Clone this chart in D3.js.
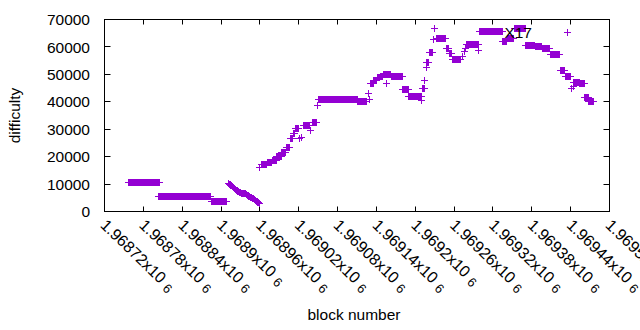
<!DOCTYPE html>
<html>
  <head>
    <meta charset="utf-8">
    <title>difficulty</title>
    <script src="https://d3js.org/d3.v7.min.js"></script>
    <style>
      body { margin: 0; background: #fff; }
      text { font-family: 'Liberation Sans', Arial, sans-serif; font-size: 15.5px; fill: #000; }
      text.xtick { font-size: 16px; }
    </style>
  </head>
  <body>
    <script>
// Data
// runs of blocks that share one difficulty: [first block, last block, difficulty]
var plateauRuns = [
  [1968757, 1968805, 10500], [1968804, 1968884, 5300], [1968885, 1968909, 3500],
  [1968962, 1968970, 17300], [1968971, 1968978, 17700], [1968979, 1968985, 18600],
  [1968986, 1968993, 19900], [1968994, 1969000, 21500], [1969001, 1969006, 23500],
  [1969007, 1969011, 26500], [1969012, 1969014, 28500], [1969015, 1969019, 30200],
  [1969028, 1969037, 31400], [1969041, 1969047, 32600], [1969050, 1969110, 40700],
  [1969111, 1969125, 40200], [1969131, 1969135, 46800], [1969136, 1969140, 47800],
  [1969141, 1969145, 48700], [1969146, 1969150, 49400], [1969151, 1969162, 49800],
  [1969163, 1969180, 49300], [1969181, 1969189, 44400], [1969190, 1969209, 42000],
  [1969211, 1969214, 44800], [1969218, 1969221, 54400], [1969222, 1969226, 57800],
  [1969233, 1969247, 63000], [1969248, 1969252, 59300], [1969253, 1969256, 57600],
  [1969257, 1969270, 55300], [1969279, 1969297, 60800], [1969299, 1969334, 65600],
  [1969335, 1969341, 61900], [1969342, 1969352, 63000], [1969353, 1969370, 66600],
  [1969371, 1969384, 60700], [1969385, 1969395, 60000], [1969396, 1969408, 59400],
  [1969409, 1969423, 57400], [1969425, 1969431, 51400], [1969432, 1969440, 49100],
  [1969445, 1969453, 46900], [1969454, 1969461, 46500], [1969462, 1969467, 41600],
  [1969468, 1969475, 40000]
];

// the falling stretch, one value per block starting at slopeFirstBlock
var slopeFirstBlock = 1968912;
var slopeValues = [
  10200, 10000, 9800, 9600, 9400, 9200, 9000, 8800, 8600,
  8400, 8200, 8000, 7800, 7600, 7400, 7200, 7000,
  6900, 6800, 6700, 6700, 6600, 6600, 6500, 6500, 6400, 6400, 6300, 6200, 6000, 5800, 5600,
  5400, 5200, 5100, 5000, 4900, 4800, 4600, 4400, 4200, 4000,
  3800, 3700, 3500, 3400, 3200, 3000
];

// lone points: [block, difficulty]
var singlePoints = [
  [1968960, 16200], [1969021, 26500], [1969024, 27000], [1969038, 29500],
  [1969049, 38600], [1969128, 43000], [1969129, 41000], [1969156, 46800],
  [1969210, 40500], [1969215, 47800], [1969217, 52600], [1969228, 62700],
  [1969230, 66600], [1969273, 56500], [1969276, 58500], [1969278, 59500],
  [1969298, 58700], [1969442, 44700], [1969444, 45600]
];

var yTickValues = [0, 10000, 20000, 30000, 40000, 50000, 60000, 70000];
var xTickValues = d3.range(1968720, 1969501, 60);
var seriesName = "X17";

//Globals
var W = 640, H = 330;
var pLeft = 104.5, pRight = 609.5, pTop = 19.5, pBottom = 211.5;
var purple = "#9400d3";

var x = d3.scaleLinear().domain([1968720, 1969500]).range([pLeft, pRight]);
var y = d3.scaleLinear().domain([0, 70000]).range([pBottom, pTop]);

// expand the runs into one point per block
var points = [];
plateauRuns.forEach(function(r){
  for (var b = r[0]; b <= r[1]; b++) points.push([b, r[2]]);
});
slopeValues.forEach(function(v, i){ points.push([slopeFirstBlock + i, v]); });
singlePoints.forEach(function(p){ points.push(p); });

var svg = d3.select("body").append("svg").attr("width", W).attr("height", H);

// ticks (inward, mirrored on top and right)
var g = svg.append("g").attr("stroke", "#000").attr("stroke-width", 1);
yTickValues.forEach(function(v){
  if (v == 0 || v == 70000) return;
  var yy = Math.round(y(v) - 0.5) + 0.5;
  g.append("line").attr("x1", pLeft).attr("x2", pLeft + 6).attr("y1", yy).attr("y2", yy);
  g.append("line").attr("x1", pRight).attr("x2", pRight - 6).attr("y1", yy).attr("y2", yy);
});
xTickValues.forEach(function(v){
  if (v == 1968720 || v == 1969500) return;
  var xx = Math.round(x(v) - 0.5) + 0.5;
  g.append("line").attr("x1", xx).attr("x2", xx).attr("y1", pBottom).attr("y2", pBottom - 5);
  g.append("line").attr("x1", xx).attr("x2", xx).attr("y1", pTop).attr("y2", pTop + 5);
});

// y tick labels
svg.selectAll("text.ytick").data(yTickValues).enter().append("text")
  .attr("class", "ytick")
  .attr("x", 90)
  .attr("y", function(d){ return y(d); })
  .attr("dy", "0.36em")
  .attr("text-anchor", "end")
  .text(function(d){ return d; });

// x tick labels, rotated by -45 like gnuplot
var xl = svg.selectAll("text.xtick").data(xTickValues).enter().append("text")
  .attr("class", "xtick")
  .attr("transform", function(d){ return "translate(" + (x(d) - 1) + ",222) rotate(44)"; })
  .attr("dy", "0.36em");
xl.append("tspan").text(function(d){ return +(d / 1e6).toFixed(5) + "x10"; });
xl.append("tspan").attr("dx", 5).attr("dy", 2).style("font-size", "13px").text("6");

// axis titles
svg.append("text").attr("x", 354).attr("y", 320).attr("text-anchor", "middle").text("block number");
svg.append("text").attr("transform", "translate(20,115.5) rotate(-90)")
  .attr("text-anchor", "middle").text("difficulty");

// points
var plus = "M-3.5,0H3.5M0,-3.5V3.5";
svg.append("g").selectAll("path").data(points).enter().append("path")
  .attr("d", plus)
  .attr("transform", function(d){
    return "translate(" + (Math.round(x(d[0]) - 0.5) + 0.5) + "," + (Math.round(y(d[1]) - 0.5) + 0.5) + ")";
  })
  .attr("fill", "none")
  .attr("stroke", purple)
  .attr("stroke-width", 1);

// key
svg.append("text").attr("x", 532).attr("y", 37.5).attr("text-anchor", "end").text(seriesName);
svg.append("path").attr("d", plus).attr("transform", "translate(567.5,32.5)")
  .attr("fill", "none").attr("stroke", purple);

// border
svg.append("rect").attr("x", pLeft).attr("y", pTop).attr("width", pRight - pLeft).attr("height", pBottom - pTop)
  .attr("fill", "none").attr("stroke", "#000").attr("stroke-width", 1);
    </script>
  </body>
</html>
